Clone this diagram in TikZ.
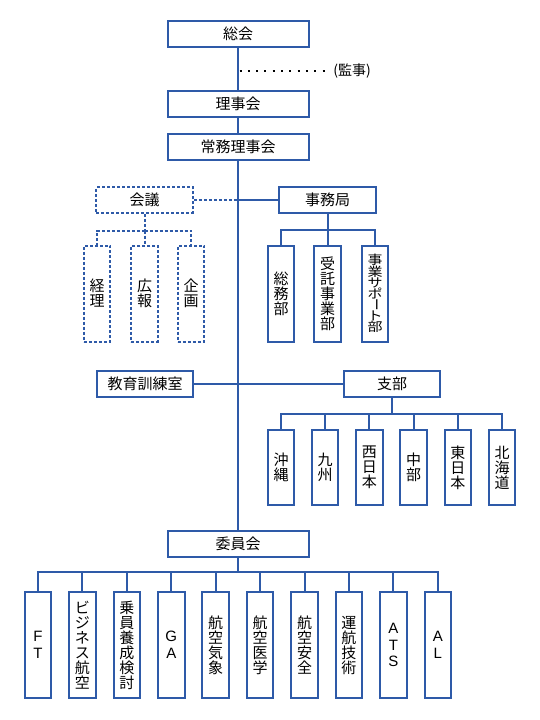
\documentclass[tikz,border=0pt]{standalone}
\usepackage{fontspec}
\setmainfont{Noto Sans CJK JP}
\newfontfamily\latinfont{Liberation Sans}
\definecolor{orgblue}{RGB}{46,90,168}
\newcommand{\squeezed}[1]{\scalebox{1}[0.83]{\renewcommand{\arraystretch}{0}\begin{tabular}{@{}c@{}}#1\end{tabular}}}
\tikzset{
  box/.style={draw=orgblue, line width=2pt, inner sep=0pt, minimum width=141pt, minimum height=26.5pt, font=\fontsize{15}{15}\selectfont},
  midbox/.style={box, minimum width=96.5pt, minimum height=25.5pt},
  tallbox/.style={box, align=center, minimum width=26.5pt, minimum height=#1},
  latinbox/.style={font=\latinfont\fontsize{15}{16.5}\selectfont},
  jpbox/.style={},
  dashbox/.style={dash pattern=on 3pt off 2pt},
  link/.style={draw=orgblue, line width=2pt},
}
\begin{document}
\begin{tikzpicture}[x=1pt,y=-1pt]
            \useasboundingbox (0,0) rectangle (540,720);
            \node[box] (soukai) at (238,34) {総会};
            \node[box] (riji) at (238,104) {理事会};
            \node[box] (jomu) at (238,147) {常務理事会};
            \draw[link] (soukai) -- (riji);
            \draw[link] (riji) -- (jomu);
            \coordinate (kanjipt) at (239.5,71);
            \node[font=\fontsize{14}{14}\selectfont] (kanji) at (352,71) {(監事)};
            \draw[dash pattern=on 2pt off 6.3pt, line width=2pt] (kanjipt) -- (kanji);
            \node[midbox, dashbox] (kaigi) at (144.5,200) {会議};
            \node[midbox] (jimukyoku) at (327.5,200) {事務局};
            \draw[link, dashbox] (kaigi) -- (kaigi -| jomu);
            \draw[link] (jimukyoku) -- (jimukyoku -| jomu);
            \node[tallbox=96pt, dashbox] (keiri) at (97,293.5) {経\\理};
            \node[tallbox=96pt, dashbox] (kouhou) at (144.5,293.5) {広\\報};
            \node[tallbox=96pt, dashbox] (kikaku) at (191,293.5) {企\\画};
            \coordinate (kaigibr) at (144.5,230.5);
            \draw[link, dashbox] (kaigi) -- (kaigibr);
            \foreach \c in {keiri,kouhou,kikaku} \draw[link, dashbox] (kaigibr) -| (\c);
            \node[tallbox=96pt] (soumu) at (281,293.5) {総\\務\\部};
            \node[tallbox=96pt] (jutaku) at (327.5,293.5) {受\\託\\事\\業\\部};
            \node[tallbox=96pt] (support) at (375,293.5) {\squeezed{事\\業\\サ\\ポ\\\rotatebox[origin=c]{-90}{ー}\\ト\\部}};
            \coordinate (jimubr) at (327.5,230);
            \draw[link] (jimukyoku) -- (jimubr);
            \foreach \c in {soumu,jutaku,support} \draw[link] (jimubr) -| (\c);
            \node[midbox] (kyoiku) at (145,384) {教育訓練室};
            \node[midbox] (shibu) at (392,384) {支部};
            \draw[link] (kyoiku) -- (shibu);
            \coordinate (shibubr) at (392,413.5);
            \draw[link] (shibu) -- (shibubr);
            \foreach \n/\t [count=\i from 0] in {okinawa/{沖\\縄}, kyushu/{九\\州}, nishi/{西\\日\\本}, chubu/{中\\部}, higashi/{東\\日\\本}, hokkaido/{北\\海\\道}}
              {\node[tallbox=75pt] (\n) at ({281+44.2*\i},467.5) {\t};
               \draw[link] (shibubr) -| (\n);}
            \node[box] (iinkai) at (238,544) {委員会};
            \draw[link] (jomu) -- (iinkai);
            \coordinate (iinkaibr) at (238,571.5);
            \draw[link] (iinkai) -- (iinkaibr);
            \foreach \n/\t/\s [count=\i from 0] in {ft/{F\\T}/latinbox, bizav/{ビ\\ジ\\ネ\\ス\\航\\空}/jpbox, jyoin/{乗\\員\\養\\成\\検\\討}/jpbox, ga/{G\\A}/latinbox, kisho/{航\\空\\気\\象}/jpbox, igaku/{航\\空\\医\\学}/jpbox, anzen/{航\\空\\安\\全}/jpbox, unko/{運\\航\\技\\術}/jpbox, ats/{A\\T\\S}/latinbox, al/{A\\L}/latinbox}
              {\node[tallbox=106pt, \s] (\n) at ({38+44.42*\i},645) {\t};
               \draw[link] (iinkaibr) -| (\n);}
\end{tikzpicture}
\end{document}
